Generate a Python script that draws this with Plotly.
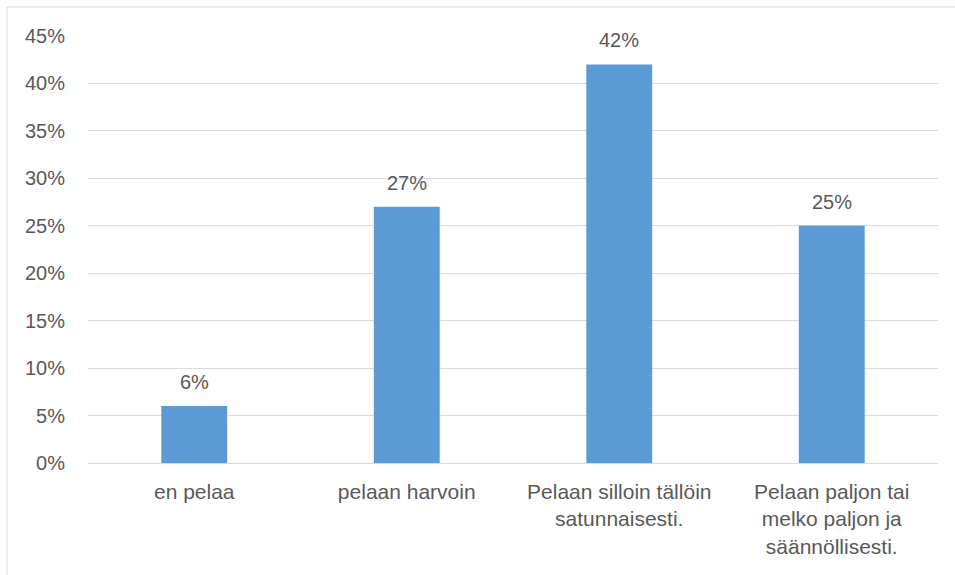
import plotly.graph_objects as go

categories = ["en pelaa", "pelaan harvoin", "Pelaan silloin tällöin<br>satunnaisesti.",
              "Pelaan paljon tai<br>melko paljon ja<br>säännöllisesti."]
values = [0.06, 0.27, 0.42, 0.25]
value_labels = ["6%", "27%", "42%", "25%"]

FONT = "Liberation Sans"
GREY = "#595959"

fig = go.Figure()
fig.add_trace(go.Bar(x=categories, y=values, marker=dict(color="#5b9bd5", line=dict(width=0)),
                     width=0.31, hoverinfo="skip"))

for c, v, t in zip(categories, values, value_labels):
    fig.add_annotation(x=c, y=v, text=t, showarrow=False, yanchor="bottom", yshift=11,
                       font=dict(family=FONT, size=20, color=GREY))

L, R, T, B = 88, 17, 36, 112
W, H = 955, 575
pw, ph = W - L - R, H - T - B
top_y = (T - 7) / ph + 1
left_x = (7 - L) / pw
# outer chart border (left and top visible)
fig.add_shape(type="line", xref="paper", yref="paper",
              x0=left_x, x1=left_x, y0=-(B + 5) / ph, y1=top_y,
              line=dict(color="#d9d9d9", width=1))
fig.add_shape(type="line", xref="paper", yref="paper",
              x0=left_x, x1=(W - L + 5) / pw, y0=top_y, y1=top_y,
              line=dict(color="#d9d9d9", width=1))

fig.update_layout(
    width=W, height=H,
    margin=dict(l=L, r=R, t=T, b=B),
    paper_bgcolor="white", plot_bgcolor="white",
    showlegend=False,
    font=dict(family=FONT, size=20, color=GREY),
    xaxis=dict(showgrid=False, zeroline=False, showline=False, ticks="",
               tickfont=dict(family=FONT, size=21, color=GREY), ticklabelstandoff=14),
    yaxis=dict(range=[0, 0.45], dtick=0.05, tickformat=".0%", showgrid=True,
               gridcolor="#d9d9d9", gridwidth=1, zeroline=True, zerolinecolor="#d9d9d9",
               zerolinewidth=1, showline=False, ticks="",
               tickfont=dict(family=FONT, size=20, color=GREY), ticklabelstandoff=22),
)

fig.write_html("out.html")
